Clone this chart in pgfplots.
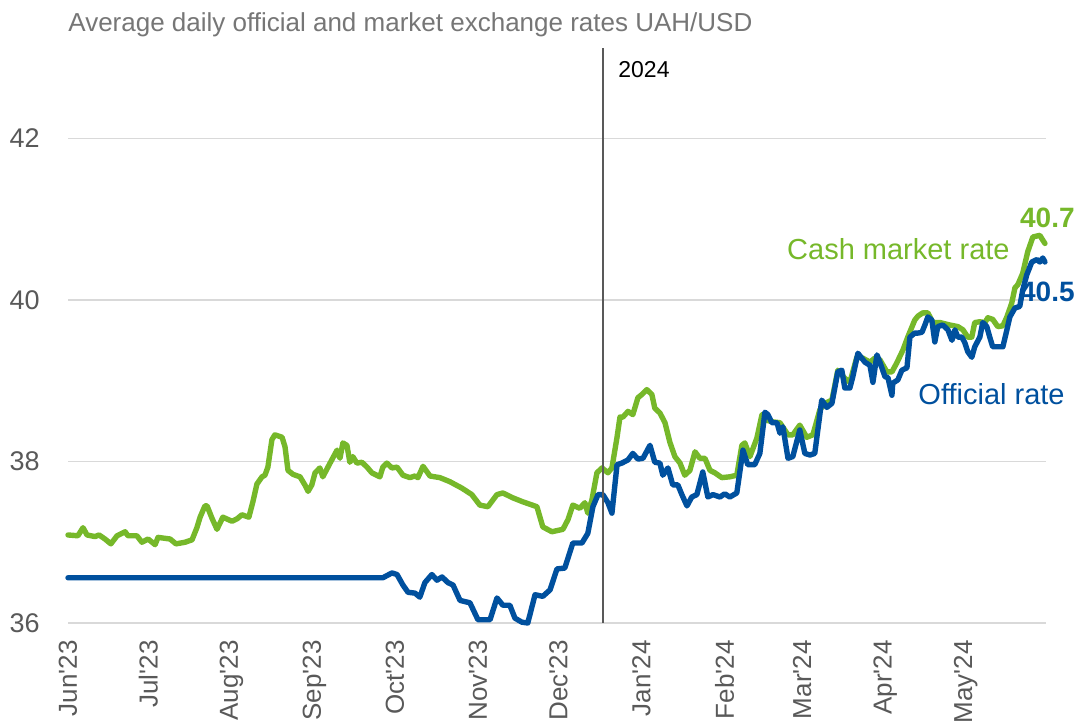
\documentclass[border=0pt]{standalone}
\usepackage{fontspec}
\setmainfont{Liberation Sans}
\usepackage{pgfplots}
\pgfplotsset{compat=1.18}
\definecolor{cashgreen}{RGB}{118,184,42}
\definecolor{offblue}{RGB}{0,80,158}
\definecolor{gridgray}{RGB}{217,217,217}
\definecolor{ticgray}{RGB}{89,89,89}
\definecolor{titlegray}{RGB}{118,118,118}
\begin{document}
\begin{tikzpicture}
\useasboundingbox (-34pt,-51.5pt) rectangle (505.5pt,311.5pt);
\begin{axis}[at={(0,0)}, anchor=south west, scale only axis,
  width=489pt, height=287.5pt,
  xmin=0, xmax=365, ymin=36, ymax=43.12,
  axis lines*=left, axis line style={draw=none}, major tick length=0pt,
  clip=false,
  ytick={36,38,40,42}, ymajorgrids, grid style={gridgray, line width=0.9pt},
  xtick={0,30,61,92,122,153,183,214,245,274,305,335},
  xticklabels={Jun\textquotesingle 23,Jul\textquotesingle 23,Aug\textquotesingle 23,Sep\textquotesingle 23,Oct\textquotesingle 23,Nov\textquotesingle 23,Dec\textquotesingle 23,Jan\textquotesingle 24,Feb\textquotesingle 24,Mar\textquotesingle 24,Apr\textquotesingle 24,May\textquotesingle 24},
  /pgf/number format/assume math mode=true,
  xticklabel style={rotate=90, anchor=east, inner sep=0pt, text=ticgray, font=\fontsize{13}{15}\selectfont},
  yticklabel style={anchor=east, inner sep=0pt, text=ticgray, font=\fontsize{13.5}{16}\selectfont},
  xticklabel shift=8.5pt, yticklabel shift=14pt,
]
\addplot[cashgreen, line width=2.7pt, line join=round, line cap=round] coordinates {
(0,37.09)(3.7,37.08)(5.6,37.18)(7.1,37.09)(10.1,37.07)(11.6,37.09)(13.8,37.04)(16.0,36.98)(18.3,37.08)(21.3,37.13)(22.4,37.08)(25.7,37.08)(27.6,37.00)(29.9,37.04)(32.5,36.97)(33.6,37.06)(38.1,37.04)(40.3,36.98)(43.7,37.00)(46.3,37.03)(48.1,37.18)(49.3,37.31)(51.1,37.45)(51.9,37.45)(53.7,37.30)(55.6,37.16)(57.8,37.31)(61.2,37.26)(63.1,37.29)(64.9,37.34)(67.5,37.31)(69.0,37.50)(70.5,37.72)(72.4,37.81)(73.5,37.83)(74.6,37.93)(76.1,38.27)(77.2,38.33)(79.9,38.30)(81.0,38.18)(82.1,37.89)(84.0,37.84)(86.6,37.81)(88.4,37.71)(89.6,37.63)(91.0,37.71)(92.2,37.86)(94.0,37.92)(95.1,37.81)(97.8,37.98)(100.4,38.14)(101.5,38.04)(102.6,38.23)(104.1,38.20)(105.2,37.99)(106.3,38.06)(107.8,37.98)(109.7,37.99)(111.6,37.93)(113.4,37.86)(116.4,37.81)(117.5,37.93)(119.0,37.98)(120.9,37.92)(122.8,37.93)(125.0,37.83)(127.6,37.80)(129.5,37.82)(130.6,37.80)(132.5,37.94)(135.1,37.82)(138.8,37.80)(142.5,37.75)(147.0,37.67)(150.7,37.59)(153.7,37.46)(156.7,37.44)(160.1,37.59)(162.3,37.61)(166.0,37.55)(169.8,37.50)(175.0,37.44)(177.2,37.19)(180.6,37.13)(184.7,37.16)(186.6,37.28)(188.4,37.46)(191.0,37.42)(192.9,37.49)(194.0,37.36)(195.5,37.52)(197.4,37.86)(199.3,37.92)(201.5,37.86)(203.0,37.92)(204.9,38.30)(206.0,38.55)(207.1,38.55)(209.0,38.62)(210.8,38.58)(212.7,38.79)(214.2,38.83)(216.0,38.89)(217.9,38.83)(219.0,38.66)(220.9,38.60)(222.8,38.48)(224.6,38.24)(226.5,38.06)(228.4,37.98)(230.2,37.83)(232.1,37.89)(234.0,38.12)(235.8,38.04)(237.7,38.04)(239.6,37.89)(241.4,37.86)(244.0,37.80)(247.0,37.81)(249.6,37.83)(251.5,38.20)(252.6,38.23)(254.5,38.06)(257.1,38.29)(259.0,38.58)(260.8,38.51)(263.1,38.49)(265.7,38.48)(268.7,38.33)(270.5,38.33)(273.1,38.45)(275.7,38.30)(278.0,38.33)(280.6,38.64)(282.5,38.72)(285.1,38.76)(287.3,39.13)(289.9,39.03)(291.8,38.98)(294.4,39.29)(296.6,39.28)(299.3,39.23)(301.1,39.28)(303.0,39.26)(305.6,39.11)(307.5,39.11)(309.3,39.22)(311.6,39.38)(313.4,39.54)(316.0,39.75)(317.2,39.80)(319.0,39.84)(320.9,39.84)(322.8,39.72)(325.4,39.72)(329.1,39.69)(332.1,39.67)(334.0,39.63)(335.8,39.54)(337.3,39.54)(338.4,39.72)(340.3,39.73)(342.2,39.72)(343.3,39.78)(345.1,39.76)(347.0,39.67)(348.9,39.68)(350.4,39.79)(352.2,39.96)(353.4,40.15)(354.5,40.19)(356.3,40.33)(358.2,40.60)(360.1,40.78)(362.7,40.80)(363.8,40.74)(364.6,40.70)
};
\addplot[offblue, line width=2.7pt, line join=round, line cap=round] coordinates {
(0,36.56)(117.5,36.56)(120.9,36.62)(122.8,36.60)(125.0,36.47)(126.9,36.38)(129.5,36.37)(131.3,36.32)(133.2,36.50)(135.8,36.60)(137.7,36.53)(139.6,36.57)(141.8,36.50)(143.7,36.47)(146.3,36.28)(150.0,36.25)(153.0,36.04)(157.5,36.04)(160.1,36.31)(162.3,36.22)(164.9,36.22)(166.8,36.06)(169.4,36.01)(171.6,36.00)(174.3,36.35)(177.2,36.33)(179.9,36.41)(182.5,36.67)(185.4,36.68)(188.4,36.99)(191.8,36.99)(194.0,37.11)(195.9,37.44)(197.8,37.59)(199.6,37.59)(201.5,37.49)(203.0,37.36)(204.9,37.96)(206.7,37.98)(209.0,38.02)(210.8,38.10)(212.7,38.03)(214.6,38.04)(217.2,38.20)(219.0,37.99)(220.9,37.98)(222.0,37.83)(223.9,37.92)(225.7,37.71)(227.6,37.71)(229.1,37.59)(231.0,37.45)(232.8,37.56)(234.7,37.59)(236.9,37.87)(238.8,37.56)(240.7,37.59)(243.3,37.56)(245.1,37.60)(247.0,37.56)(249.6,37.61)(251.9,38.14)(253.7,37.96)(256.3,37.96)(258.2,38.10)(260.1,38.61)(261.2,38.58)(262.7,38.48)(264.6,38.48)(265.7,38.35)(266.8,38.43)(268.7,38.04)(270.5,38.06)(273.1,38.39)(275.0,38.10)(276.9,38.08)(278.7,38.10)(281.3,38.76)(283.2,38.67)(285.1,38.72)(287.3,39.11)(288.8,39.13)(289.9,38.91)(291.8,38.91)(292.9,39.05)(294.8,39.34)(297.4,39.23)(299.3,39.19)(300.4,38.98)(301.9,39.32)(303.0,39.23)(304.9,39.05)(306.0,39.04)(307.5,38.82)(307.8,38.97)(309.7,39.01)(311.2,39.13)(313.1,39.16)(314.2,39.54)(316.0,39.59)(317.2,39.59)(318.7,39.60)(319.8,39.69)(320.9,39.79)(322.4,39.75)(323.5,39.48)(324.6,39.67)(326.5,39.69)(328.4,39.63)(329.9,39.50)(331.0,39.63)(332.1,39.54)(333.6,39.54)(334.7,39.47)(335.8,39.36)(337.3,39.29)(338.4,39.42)(340.3,39.54)(341.4,39.72)(342.9,39.67)(344.0,39.54)(345.1,39.42)(347.0,39.42)(348.9,39.42)(350.4,39.63)(351.5,39.79)(353.4,39.90)(355.2,39.92)(356.3,40.12)(357.8,40.31)(359.7,40.47)(361.6,40.50)(362.7,40.47)(363.8,40.52)(364.6,40.47)
};
\draw[ticgray, line width=0.7pt] (axis cs:199.6,36) -- (axis cs:199.6,43.12);
\end{axis}
\node[anchor=base west, inner sep=0pt, text=titlegray, font=\fontsize{13}{15}\selectfont] at (0pt,295.5pt) {Average daily official and market exchange rates UAH/USD};
\node[anchor=base west, inner sep=0pt, font=\fontsize{11.5}{14}\selectfont] at (275pt,272.5pt) {2024};
\node[anchor=base east, inner sep=0pt, text=cashgreen, font=\fontsize{14.5}{17}\selectfont] at (471pt,181.5pt) {Cash market rate};
\node[anchor=base east, inner sep=0pt, text=cashgreen, font=\bfseries\fontsize{14}{17}\selectfont] at (503.5pt,197.5pt) {40.7};
\node[anchor=base east, inner sep=0pt, text=offblue, font=\bfseries\fontsize{14}{17}\selectfont] at (503.5pt,160.5pt) {40.5};
\node[anchor=base east, inner sep=0pt, text=offblue, font=\fontsize{14.5}{17}\selectfont] at (498.5pt,109pt) {Official rate};
\end{tikzpicture}
\end{document}
